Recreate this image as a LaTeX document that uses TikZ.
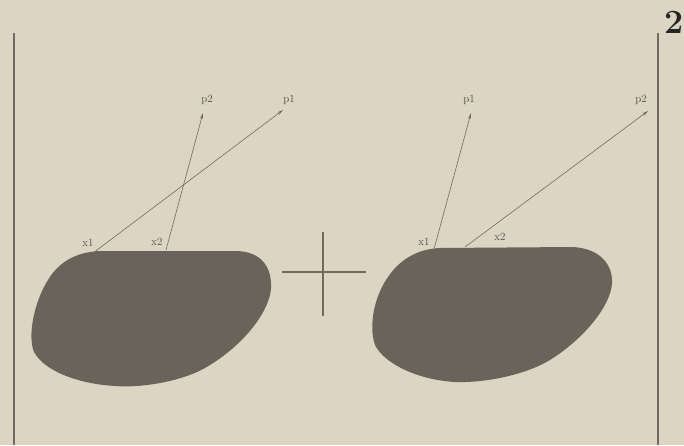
\documentclass[tikz,border=0pt]{standalone}
\usetikzlibrary{arrows.meta,positioning}
\definecolor{paper}{HTML}{DDD5C3}
\definecolor{stone}{HTML}{6A6359}
\definecolor{ink}{HTML}{716A60}

\begin{document}
\begin{tikzpicture}[
    x=1pt, y=-1pt,
    blob/.style={fill=stone, draw=none},
    arrow/.style={-{Stealth[length=6pt,width=3pt]}, draw=ink, line width=0.6pt},
    bar/.style={draw=ink, line width=1.3pt},
    lbl/.style={text=black!70, font=\rmfamily\fontsize{11}{11}\selectfont, inner sep=1pt}
]
\fill[paper] (0,0) rectangle (684,445);
\useasboundingbox (0,0) rectangle (684,445);

% norm bars
\coordinate (lbtop) at (14,33);
\coordinate (lbbot) at (14,445);
\coordinate (rbtop) at (658,33);
\coordinate (rbbot) at (658,445);
\draw[bar] (lbtop) -- (lbbot);
\draw[bar] (rbtop) -- (rbbot);
\node[text=black!85, font=\fontsize{34}{34}\selectfont\bfseries, anchor=south west, inner sep=0pt] (sq) at (664,34) {2};

% left body
\fill[stone] (100,251) -- (235,251)
    .. controls (262,251) and (272,268) .. (271,288)
    .. controls (270,310) and (245,345) .. (205,368)
    .. controls (180,382) and (140,388) .. (115,386)
    .. controls (80,384) and (45,372) .. (34,352)
    .. controls (27,335) and (35,300) .. (48,280)
    .. controls (58,263) and (75,252) .. (100,251) -- cycle;

% right body
\fill[stone] (440,248) -- (572,247)
    .. controls (600,248) and (613,265) .. (612,283)
    .. controls (611,305) and (585,338) .. (550,360)
    .. controls (525,375) and (485,383) .. (455,382)
    .. controls (420,380) and (385,365) .. (375,345)
    .. controls (368,325) and (375,295) .. (388,277)
    .. controls (398,262) and (415,249) .. (440,248) -- cycle;

% plus sign
\coordinate (ph1) at (282,272);
\coordinate (ph2) at (366,272);
\coordinate (pv1) at (323,232);
\coordinate (pv2) at (323,316);
\draw[bar, line width=1.1pt] (ph1) -- (ph2);
\draw[bar, line width=1.1pt] (pv1) -- (pv2);

% left forces
\coordinate (lx1) at (93,253);
\coordinate (lx2) at (166,250);
\coordinate (lp1) at (283,110);
\coordinate (lp2) at (203,113);
\draw[arrow] (lx1) -- (lp1);
\draw[arrow] (lx2) -- (lp2);
\node[lbl] (lx1l) at (88,243) {x1};
\node[lbl] (lx2l) at (157,242) {x2};
\node[lbl] (lp1l) at (289,100) {p1};
\node[lbl] (lp2l) at (207,100) {p2};

% right forces
\coordinate (rx1) at (434,249);
\coordinate (rx2) at (465,247);
\coordinate (rp1) at (471,113);
\coordinate (rp2) at (648,111);
\draw[arrow] (rx1) -- (rp1);
\draw[arrow] (rx2) -- (rp2);
\node[lbl] (rx1l) at (424,242) {x1};
\node[lbl] (rx2l) at (500,237) {x2};
\node[lbl] (rp1l) at (469,100) {p1};
\node[lbl] (rp2l) at (641,100) {p2};
\end{tikzpicture}
\end{document}
